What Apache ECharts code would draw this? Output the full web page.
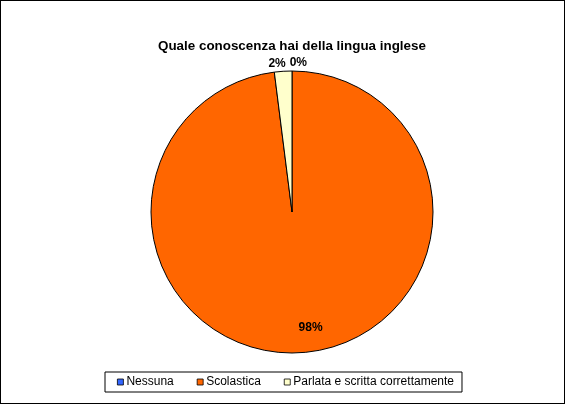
<!DOCTYPE html>
<html>
<head>
<meta charset="utf-8">
<script src="https://cdn.jsdelivr.net/npm/echarts@6/dist/echarts.min.js"></script>
<style>
  html, body { margin: 0; padding: 0; background: #fff; }
  #chart { width: 563px; height: 402px; border: 1px solid #000; }
</style>
</head>
<body>
<div id="chart"></div>
<script>
var categories = ['Nessuna', 'Scolastica', 'Parlata e scritta correttamente'];
var values = [0, 49, 1];
var colors = ['#3366FF', '#FF6600', '#FFFFCC'];

var font = 'Liberation Sans, Arial, sans-serif';
var myChart = echarts.init(document.getElementById('chart'));

var pieData = categories.map(function (name, i) {
    var item = { name: name, value: values[i], itemStyle: { color: colors[i] } };
    if (i === 1) {
        // la fetta grande ha l'etichetta dentro
        item.label = { position: 'inside' };
    }
    return item;
});

// spostamenti delle etichette (come nel grafico Excel)
var labelShift = [
    { dx: 20, dy: -2 },
    { dx: 14, dy: 42 },
    { dx: 8, dy: -2 }
];

myChart.setOption({
    animation: false,
    title: {
        text: 'Quale conoscenza hai della lingua inglese',
        left: 152,
        top: 34,
        textStyle: { fontFamily: font, fontSize: 13.4, fontWeight: 'bold', color: '#000' }
    },
    legend: {
        data: categories,
        bottom: 11,
        left: 104,
        icon: 'rect',
        itemWidth: 6,
        itemHeight: 6,
        itemGap: 23,
        borderColor: '#000',
        borderWidth: 1,
        padding: [4, 8, 4, 12],
        itemStyle: { borderColor: '#000', borderWidth: 0.8 },
        textStyle: { fontFamily: font, fontSize: 12, color: '#000', padding: [0, 0, 0, -2] }
    },
    series: [{
        type: 'pie',
        center: [291, 211],
        radius: 141,
        startAngle: 90,
        clockwise: true,
        avoidLabelOverlap: false,
        percentPrecision: 0,
        itemStyle: { borderColor: '#000', borderWidth: 1 },
        label: {
            position: 'outside',
            formatter: '{d}%',
            fontFamily: font,
            fontSize: 12,
            fontWeight: 'bold',
            color: '#000'
        },
        labelLine: { show: false, length: 6, length2: 0 },
        labelLayout: function (params) {
            return labelShift[params.dataIndex];
        },
        data: pieData
    }]
});
</script>
</body>
</html>
